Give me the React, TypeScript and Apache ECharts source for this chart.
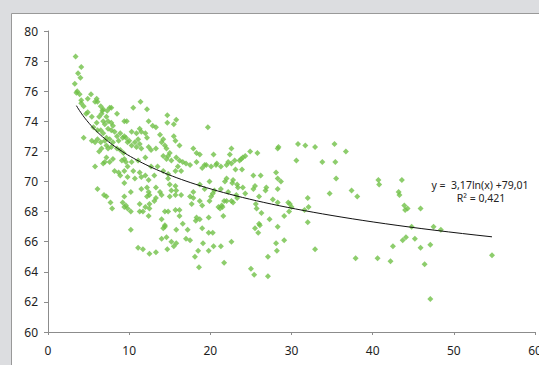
import React, { useEffect, useRef } from "react";
import * as echarts from "echarts";

// Scatter values [x, y], grouped by region
const pointsTopLeft: number[][] = [
  [3.4, 78.3], [4.1, 77.6], [3.7, 77.2], [4.0, 76.9], [3.3, 76.5], [3.6, 76.0], [3.5, 75.9], [3.9, 75.8],
  [5.3, 75.8], [4.9, 75.5], [4.1, 75.4], [4.4, 75.0], [4.1, 75.2], [6.0, 75.5], [6.1, 75.3], [5.8, 75.3],
  [6.5, 75.0], [6.8, 74.8], [6.7, 74.7], [7.6, 74.9], [7.8, 74.9], [7.3, 74.7], [8.5, 74.5], [9.4, 74.0],
  [9.7, 74.0], [4.9, 74.6], [5.4, 74.3], [4.7, 74.5], [6.0, 73.9], [6.3, 74.3], [6.6, 74.5], [7.2, 74.3],
  [7.4, 74.0], [7.8, 73.9], [8.0, 73.7], [6.8, 74.0], [7.0, 73.8],
];
const pointsLeft: number[][] = [
  [5.6, 73.6], [6.1, 73.4], [6.5, 73.4], [6.8, 73.2], [7.4, 73.5], [7.8, 73.4], [8.2, 73.3], [8.5, 73.0],
  [8.9, 73.2], [9.2, 72.9], [9.4, 73.0], [8.7, 72.7], [8.0, 72.6], [7.6, 72.8], [7.2, 72.9], [7.0, 72.7],
  [6.5, 72.6], [6.1, 72.8], [5.8, 72.6], [5.4, 72.7], [4.4, 72.9], [6.3, 72.0], [6.6, 72.2], [7.2, 72.4],
  [7.4, 72.2], [7.8, 72.3], [8.5, 72.2], [8.9, 72.1], [9.3, 71.9], [9.4, 71.5], [9.1, 71.4], [9.6, 71.3],
  [8.0, 71.5], [7.6, 71.3], [7.0, 71.3], [6.8, 71.2], [7.2, 71.6], [5.8, 71.0], [8.2, 70.7], [8.7, 70.6],
  [8.9, 70.4], [9.4, 70.7], [9.4, 69.9], [6.1, 69.5], [6.9, 69.1], [7.2, 69.0], [7.7, 68.6], [7.9, 68.2],
  [9.4, 69.0], [9.2, 68.6],
];
const pointsMidUpper: number[][] = [
  [11.4, 75.3], [10.5, 74.9], [12.2, 74.8], [14.7, 74.4], [15.8, 74.1], [14.7, 73.9], [15.5, 73.8], [12.4, 74.0],
  [12.9, 73.7], [13.3, 73.6], [10.3, 73.3], [10.9, 73.2], [11.3, 73.5], [11.5, 73.3], [12.0, 73.2], [12.2, 72.9],
  [9.6, 72.9], [9.8, 72.6], [10.0, 72.7], [10.3, 72.4], [10.7, 72.6], [10.9, 72.3], [11.1, 72.8], [11.3, 72.5],
  [11.5, 72.2], [12.4, 72.3], [12.7, 72.1], [13.3, 72.2], [14.0, 72.6], [14.4, 72.4], [14.6, 72.2], [15.0, 71.9],
  [15.5, 73.0], [15.7, 72.7], [16.2, 72.4], [13.8, 73.1], [14.2, 72.8], [17.9, 72.2], [18.3, 71.9], [18.7, 71.8],
  [19.3, 71.1], [19.0, 70.9], [18.3, 71.3], [15.8, 71.6], [16.2, 71.4], [16.6, 71.3], [17.0, 71.2], [17.5, 71.1],
  [14.8, 71.7], [14.6, 71.5], [15.2, 71.4], [14.2, 71.7], [13.5, 71.0], [14.2, 70.7], [16.0, 71.0], [15.7, 70.7],
  [16.4, 70.7], [12.0, 71.6], [11.1, 71.4], [10.3, 71.3], [9.8, 71.0], [10.5, 70.7], [11.3, 70.6], [12.7, 71.0],
  [13.1, 70.4], [12.0, 70.4], [14.8, 70.5],
];
const pointsMidLower: number[][] = [
  [9.8, 70.3], [10.7, 70.2], [11.5, 70.3], [12.4, 70.1], [10.2, 69.3], [11.5, 69.5], [12.2, 69.6], [12.4, 69.3],
  [12.5, 69.1], [12.2, 69.0], [13.3, 69.6], [13.8, 69.3], [14.0, 69.1], [14.8, 70.2], [15.0, 69.8], [15.2, 69.4],
  [15.0, 69.0], [15.7, 69.7], [15.8, 69.4], [15.7, 69.1], [16.4, 69.1], [17.9, 69.3], [17.5, 69.0], [17.9, 68.9],
  [17.7, 68.5], [19.0, 68.4], [19.3, 69.5], [13.3, 68.9], [13.1, 68.7], [12.5, 68.5], [11.3, 68.5], [12.0, 68.3],
  [12.5, 68.2], [9.6, 68.4], [9.8, 68.2], [10.2, 68.0], [9.4, 68.3], [11.3, 68.0], [11.7, 68.0], [12.4, 67.7],
  [14.4, 68.0], [14.8, 68.0], [15.7, 68.1], [16.2, 68.1], [16.2, 67.7], [14.0, 67.5], [14.4, 67.1], [14.4, 67.0],
  [14.2, 66.9], [16.6, 67.2], [17.2, 66.8], [15.8, 66.8], [18.3, 67.6], [18.2, 67.4], [18.7, 67.5], [19.0, 66.9],
  [10.2, 66.8], [14.0, 66.2], [14.6, 66.3], [15.2, 66.0], [15.8, 65.9], [15.5, 65.7], [17.0, 66.2], [17.5, 66.1],
  [11.1, 65.6], [11.7, 65.5], [12.5, 65.2], [13.3, 65.3], [14.7, 65.5], [18.5, 65.4], [19.1, 65.9], [18.1, 65.0],
  [18.6, 64.3],
];
const pointsCenter: number[][] = [
  [19.7, 73.6], [22.6, 72.2], [22.4, 71.8], [20.4, 71.8], [24.9, 72.0], [25.8, 71.9], [28.4, 72.3], [28.3, 72.2],
  [23.0, 71.4], [23.6, 71.4], [24.0, 71.6], [24.3, 71.7], [23.8, 71.5], [22.2, 71.3], [22.6, 71.2], [23.1, 70.8],
  [23.9, 70.8], [20.8, 71.2], [20.7, 71.1], [20.1, 71.0], [19.5, 71.1], [21.3, 71.0], [22.0, 71.1], [19.9, 70.0],
  [18.7, 69.8], [21.8, 70.0], [22.0, 70.2], [22.7, 69.9], [22.8, 70.1], [23.3, 69.8], [23.4, 69.6], [24.0, 69.6],
  [25.3, 70.4], [26.2, 70.4], [28.1, 70.6], [28.3, 70.2], [28.7, 70.0], [26.9, 69.6], [26.8, 69.4], [28.3, 69.5],
  [25.3, 69.5], [25.5, 69.7], [21.3, 69.5], [20.5, 69.4], [20.3, 69.2], [20.1, 69.0], [19.9, 68.7], [22.2, 69.3],
  [22.6, 68.7], [22.8, 68.6], [22.0, 68.7], [21.7, 68.7], [24.3, 69.2], [23.2, 69.1], [23.3, 68.9], [26.0, 69.0],
  [27.7, 68.8], [28.3, 68.6], [25.6, 68.5], [25.7, 68.2], [26.3, 67.9], [29.6, 68.6], [29.8, 68.5], [30.0, 68.3],
  [29.7, 68.0], [18.7, 68.7], [21.0, 68.3], [21.2, 68.2], [21.5, 68.3], [21.4, 68.4], [21.6, 67.7], [19.8, 67.6],
  [27.3, 67.5], [28.3, 67.0], [29.1, 67.7], [25.5, 66.9], [26.0, 67.2], [26.1, 67.1], [25.9, 66.6], [20.3, 66.6],
  [19.8, 66.6], [19.8, 65.4], [20.4, 65.7], [21.3, 65.7], [22.6, 66.0], [29.1, 66.1], [28.1, 65.9], [28.2, 65.4],
  [21.7, 64.6], [27.1, 65.0], [25.0, 64.2], [25.4, 63.8], [27.1, 63.7],
];
const pointsRight: number[][] = [
  [30.8, 72.5], [31.7, 72.4], [32.9, 72.3], [35.3, 72.5], [36.7, 72.0], [30.6, 71.4], [33.8, 71.3], [35.4, 71.3],
  [35.5, 70.2], [34.7, 69.2], [37.4, 69.4], [38.1, 69.0], [40.7, 70.1], [40.8, 69.8], [43.6, 70.1], [43.2, 69.3],
  [43.3, 69.1], [43.9, 68.4], [44.3, 68.2], [44.0, 68.1], [45.9, 68.2], [32.0, 68.9], [32.1, 68.3], [31.6, 68.1],
  [32.0, 67.3], [44.8, 67.0], [47.5, 67.0], [48.4, 66.8], [44.1, 66.3], [43.7, 66.1], [45.2, 66.2], [42.5, 65.7],
  [45.9, 65.6], [47.1, 65.8], [46.4, 64.5], [47.1, 62.2], [54.7, 65.1], [32.9, 65.5], [37.9, 64.9], [40.6, 64.9],
  [42.2, 64.7],
];

// Logarithmic trend line shown in the chart: y = a*ln(x) + b
const trendA = -3.17;
const trendB = 79.01;
const trendXMin = 3.5;
const trendXMax = 54.7;
const trendLabel = "y =  3,17ln(x) +79,01";
const r2Label = "R² = 0,421";

const xMin = 0, xMax = 60, xStep = 10;
const yMin = 60, yMax = 80, yStep = 2;

export default function App() {
  const ref = useRef<HTMLDivElement>(null);
  useEffect(() => {
    if (!ref.current) return;
    const chart = echarts.init(ref.current, null, { renderer: "svg" });
    const points = [
      ...pointsTopLeft, ...pointsLeft, ...pointsMidUpper, ...pointsMidLower, ...pointsCenter, ...pointsRight,
    ];
    const trend: number[][] = [];
    const n = 80;
    for (let i = 0; i <= n; i++) {
      const x = trendXMin * Math.pow(trendXMax / trendXMin, i / n);
      trend.push([x, trendA * Math.log(x) + trendB]);
    }
    const axisGray = "#8c8c8c";
    const labelStyle = { color: "#1e1e1e", fontSize: 12, fontFamily: "Noto Sans" };
    chart.setOption({
      animation: false,
      backgroundColor: "#dcdde0",
      grid: { left: 48, top: 31, right: 4, bottom: 33, containLabel: false, outerBoundsMode: "none" },
      xAxis: {
        type: "value", min: xMin, max: xMax, interval: xStep,
        splitLine: { show: false },
        axisLine: { show: true, lineStyle: { color: axisGray, width: 1 } },
        axisTick: { show: true, length: 3, lineStyle: { color: axisGray } },
        axisLabel: { ...labelStyle, margin: 12 },
      },
      yAxis: {
        type: "value", min: yMin, max: yMax, interval: yStep,
        splitLine: { show: false },
        axisLine: { show: true, lineStyle: { color: axisGray, width: 1 } },
        axisTick: { show: true, length: 4, lineStyle: { color: axisGray } },
        axisLabel: { ...labelStyle, margin: 10 },
      },
      graphic: [
        {
          type: "rect", z: -10, silent: true,
          shape: { x: 11.5, y: 13.5, width: 600, height: 400 },
          style: { fill: "#ffffff", stroke: "#999999", lineWidth: 1 },
        },
        {
          type: "text", x: 480, y: 185, z: 10,
          style: { text: trendLabel, fill: "#222", fontSize: 10.5, fontFamily: "Noto Sans", align: "center", verticalAlign: "middle" },
        },
        {
          type: "text", x: 481, y: 198, z: 10,
          style: { text: r2Label, fill: "#222", fontSize: 10.5, fontFamily: "Noto Sans", align: "center", verticalAlign: "middle" },
        },
      ],
      series: [
        {
          type: "scatter", data: points, symbol: "diamond", symbolSize: 6,
          itemStyle: { color: "#70c047" },
        },
        {
          type: "line", data: trend, showSymbol: false, symbol: "none", smooth: false,
          lineStyle: { color: "#111111", width: 1 }, z: 5,
        },
      ],
    });
    return () => chart.dispose();
  }, []);
  return <div ref={ref} style={{ position: "fixed", left: 0, top: 0, width: 539, height: 365 }} />;
}
